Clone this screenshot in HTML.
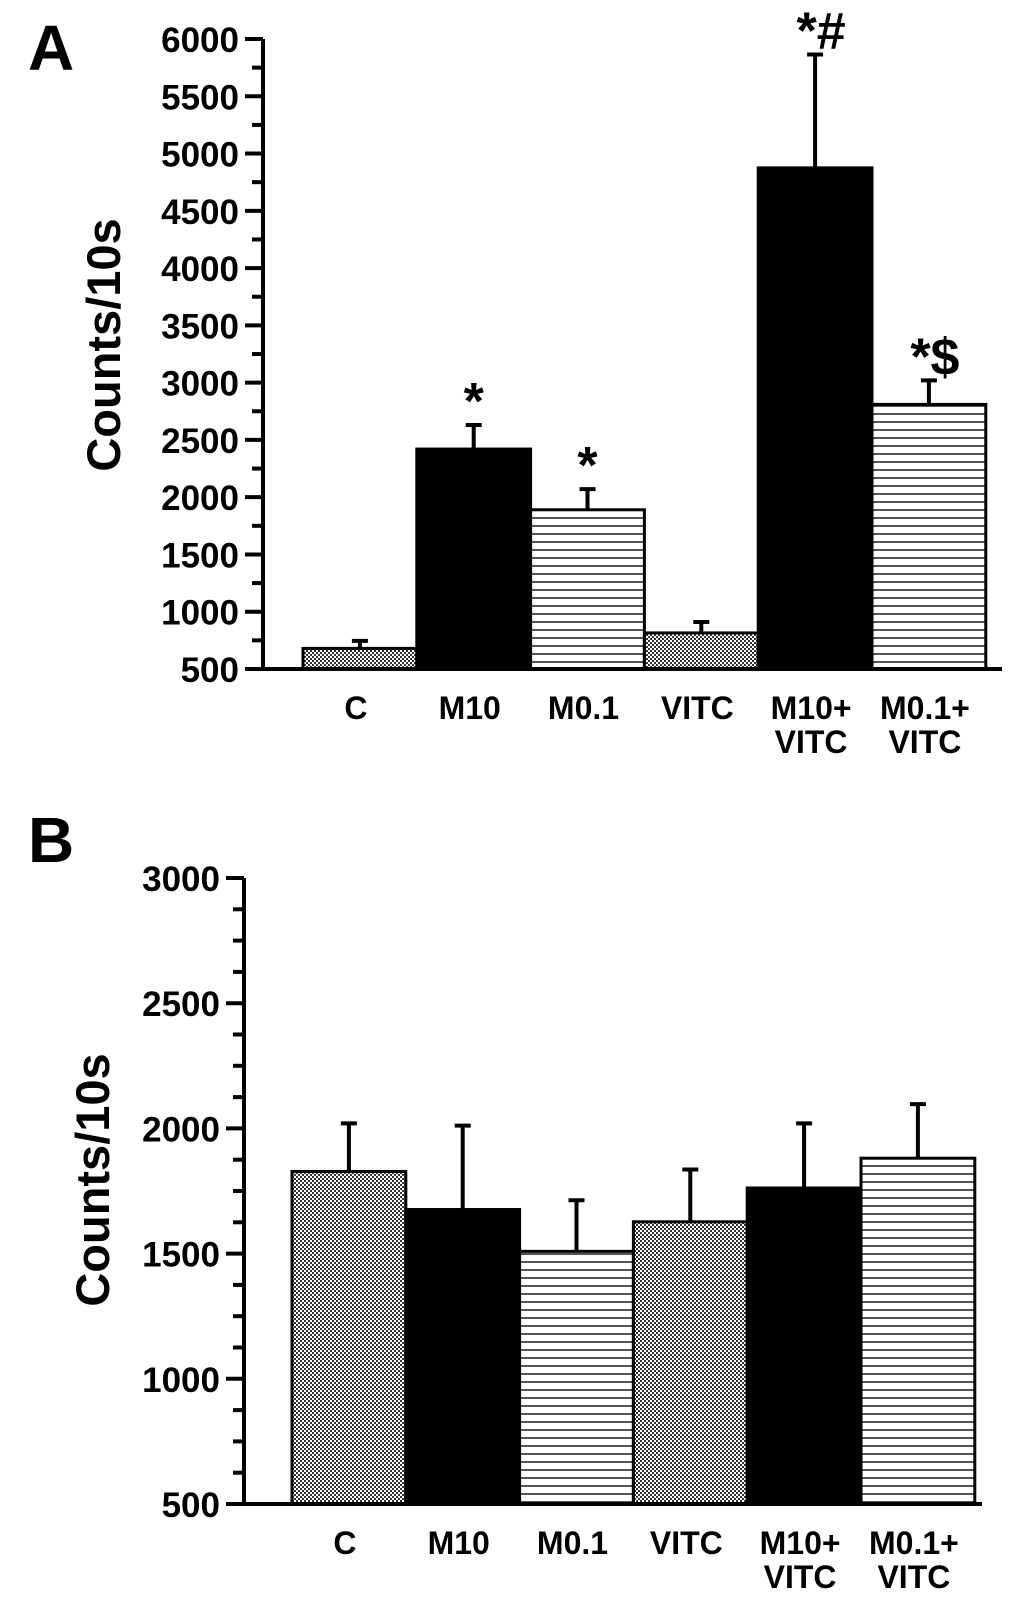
<!DOCTYPE html>
<html><head><meta charset="utf-8"><style>
html,body{margin:0;padding:0;background:#fff}
svg{display:block}
text{font-family:"Liberation Sans",Arial,sans-serif;font-weight:bold;fill:#000}
</style></head><body>
<svg id="fig" width="1032" height="1605" viewBox="0 0 1032 1605" xmlns="http://www.w3.org/2000/svg">
<defs>
<pattern id="dots" width="4" height="4" patternUnits="userSpaceOnUse">
<rect width="4" height="4" fill="#fff"/>
<rect x="0" y="0" width="2" height="2" fill="#333"/>
<rect x="2" y="2" width="2" height="2" fill="#333"/>
</pattern>
<pattern id="hlines" width="8" height="8" patternUnits="userSpaceOnUse">
<rect width="8" height="8" fill="#fff"/>
<rect x="0" y="5" width="8" height="2" fill="#555"/>
</pattern>
</defs>
</svg>
<script>
const categories = ["C","M10","M0.1","VITC","M10+\nVITC","M0.1+\nVITC"];
const fills = ["url(#dots)","#000","url(#hlines)","url(#dots)","#000","url(#hlines)"];
const valuesA = [680, 2420, 1890, 815, 4875, 2810];
const errorsA = [745, 2630, 2070, 910, 5865, 3020];
const notesA = ["", "*", "*", "", "*#", "*$"];
const ticksA = [500,1000,1500,2000,2500,3000,3500,4000,4500,5000,5500,6000];
const valuesB = [1828, 1676, 1509, 1627, 1762, 1881];
const errorsB = [2020, 2011, 1713, 1836, 2020, 2097];
const ticksB = [500,1000,1500,2000,2500,3000];

const NS = "http://www.w3.org/2000/svg";
const svg = document.getElementById("fig");
function mk(tag, attrs, parent){
  const e = document.createElementNS(NS, tag);
  for (const k in attrs) e.setAttribute(k, attrs[k]);
  (parent||svg).appendChild(e);
  return e;
}

function panel(cfg){
  const g = mk("g", {});
  
  
  const yMin = cfg.ticks[0], yMax = cfg.ticks[cfg.ticks.length-1];
  const y = v => cfg.y0 - (v - yMin) / (yMax - yMin) * (cfg.y0 - cfg.y1);
  const bw = cfg.bw;
  const x = i => cfg.barStart + i * bw;
  cfg.values.forEach((v, i) => {
    const r = mk("rect", {x: x(i), y: y(v), width: bw, height: cfg.y0 - y(v), fill: fills[i], stroke: "#000", "stroke-width": 3}, g);
    
    
    const cx = x(i) + bw / 2;
    const eb = mk("path", {d: `M${cx},${y(v)} V${y(cfg.errors[i])} M${cx-8},${y(cfg.errors[i])} H${cx+8}`, stroke: "#000", "stroke-width": 4, fill: "none"}, g);
    
    
    if (cfg.notes && cfg.notes[i]) {
      const t = mk("text", {x: cx + (cfg.notes[i].length > 1 ? 6 : 0), y: y(cfg.errors[i]) - 6, "font-size": 52, "text-anchor": "middle"}, g);
      t.textContent = cfg.notes[i];
      
      
    }
    const lines = categories[i].split("\n");
    lines.forEach((ln, k) => {
      const t = mk("text", {x: cx - 4, y: cfg.y0 + 50 + k * 34, "font-size": 32, "text-anchor": "middle"}, g);
      t.textContent = ln;
      
      
    });
  });
  const ax = mk("path", {d: `M${cfg.ax},${cfg.y1} V${cfg.y0} H${cfg.xEnd}`, stroke: "#000", "stroke-width": 4, fill: "none"}, g);
  
  
  cfg.ticks.forEach((tv, k) => {
    const ty = y(tv);
    const tk = mk("line", {x1: cfg.ax - 18, x2: cfg.ax, y1: ty, y2: ty, stroke: "#000", "stroke-width": 4}, g);
    
    
    const lb = mk("text", {x: cfg.ax - 24, y: ty + 13, "font-size": 35, "text-anchor": "end"}, g);
    lb.textContent = tv;
    
    
    if (k < cfg.ticks.length - 1) {
      const step = cfg.ticks[k+1] - tv;
      for (let m = 1; m < cfg.minor; m++) {
        const my = y(tv + step * m / cfg.minor);
        const mt = mk("line", {x1: cfg.ax - 11, x2: cfg.ax, y1: my, y2: my, stroke: "#000", "stroke-width": 4}, g);
        
        
      }
    }
  });
  const yt = mk("text", {x: 0, y: 0, "font-size": 47, "text-anchor": "middle", transform: `translate(${cfg.titleX},${cfg.titleY}) rotate(-90)`}, g);
  yt.textContent = "Counts/10s";
  
  
  const pl = mk("text", {x: cfg.letterX, y: cfg.letterY, "font-size": 64}, g);
  pl.textContent = cfg.letter;
  
  
}

panel({name: "panel-a", letter: "A", letterX: 28, letterY: 70, values: valuesA, errors: errorsA, notes: notesA, ticks: ticksA,
  y0: 669, y1: 39, ax: 263, xEnd: 1002, barStart: 303, bw: 113.8, minor: 2, titleX: 120, titleY: 345});
panel({name: "panel-b", letter: "B", letterX: 28, letterY: 862, values: valuesB, errors: errorsB, notes: null, ticks: ticksB,
  y0: 1504, y1: 878, ax: 244, xEnd: 982, barStart: 292, bw: 113.8, minor: 4, titleX: 109, titleY: 1180});
</script>
</body></html>
